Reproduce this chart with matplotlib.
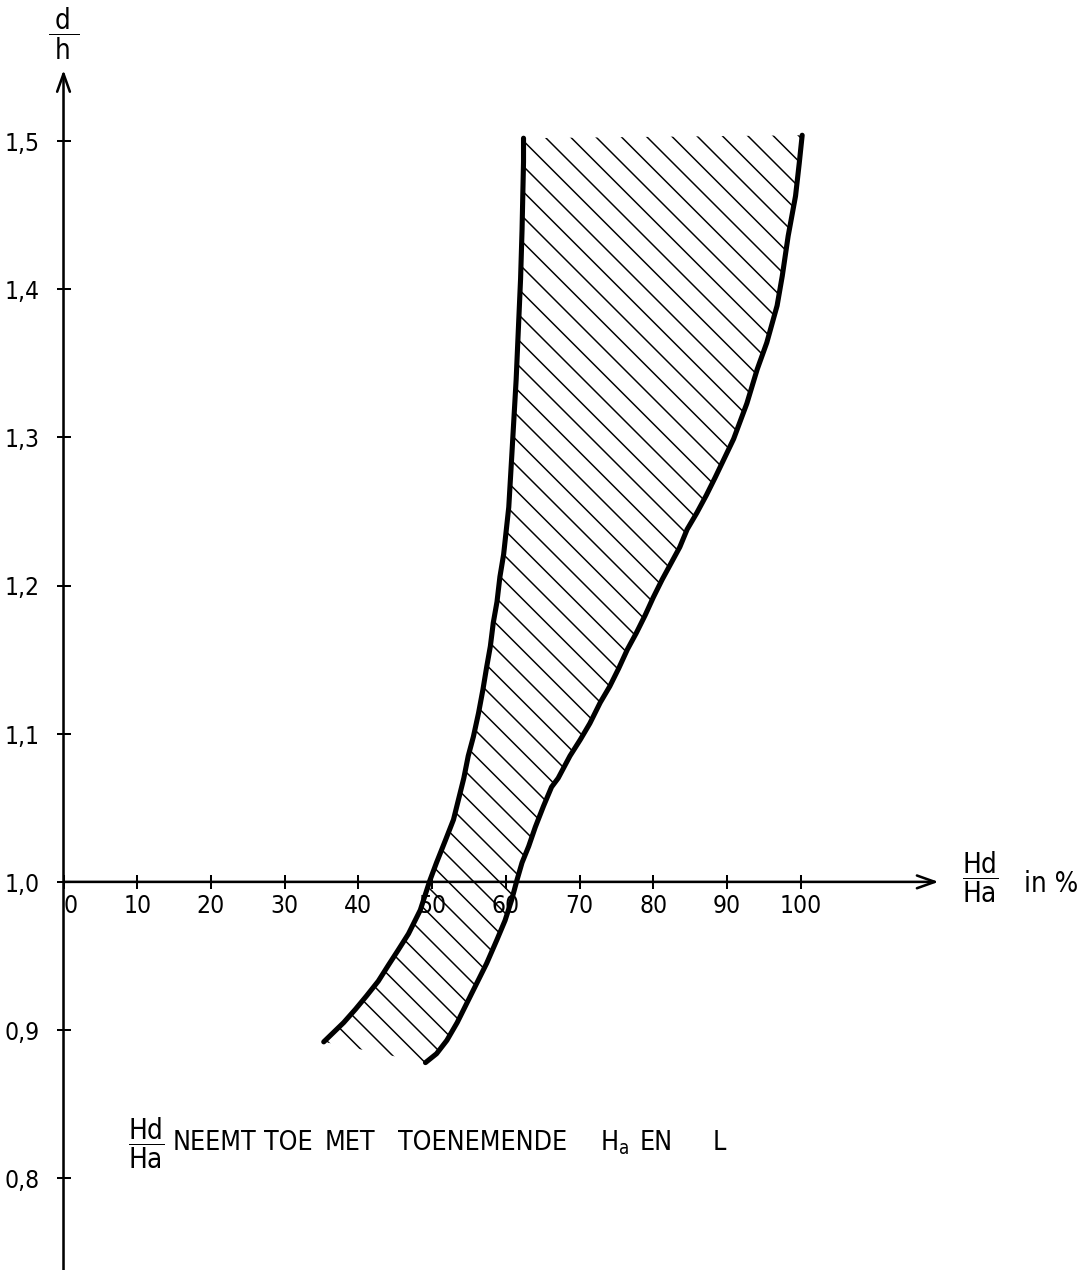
import matplotlib
matplotlib.use("Agg")
import matplotlib.pyplot as plt

# d/h (y) against Hd/Ha in % (x)
left_y = [0.892, 0.905, 0.914, 0.923, 0.933, 0.944, 0.954, 0.965, 0.981, 1.001, 1.013,
          1.028, 1.042, 1.060, 1.070, 1.085, 1.098, 1.114, 1.130, 1.145, 1.159, 1.175,
          1.189, 1.206, 1.221, 1.253, 1.287, 1.339, 1.373, 1.407, 1.440, 1.486, 1.502]
left_x = [35.3, 38.0, 39.6, 41.1, 42.7, 44.1, 45.4, 46.8, 48.4, 49.7, 50.6,
          51.8, 52.9, 53.8, 54.3, 54.9, 55.6, 56.3, 56.9, 57.4, 57.9, 58.3,
          58.8, 59.2, 59.7, 60.4, 60.8, 61.4, 61.7, 62.0, 62.2, 62.4, 62.4]

right_y = [0.878, 0.884, 0.893, 0.905, 0.918, 0.932, 0.945, 0.961, 0.974, 0.988, 1.001,
           1.013, 1.024, 1.037, 1.051, 1.064, 1.070, 1.085, 1.096, 1.107, 1.121, 1.132,
           1.144, 1.157, 1.168, 1.180, 1.192, 1.204, 1.215, 1.226, 1.238, 1.249, 1.261,
           1.273, 1.299, 1.323, 1.346, 1.364, 1.389, 1.409, 1.436, 1.463, 1.485, 1.504]
right_x = [49.1, 50.6, 52.0, 53.4, 54.7, 56.1, 57.4, 58.8, 59.9, 60.8, 61.5,
           62.2, 63.1, 64.0, 65.1, 66.2, 67.1, 68.7, 70.1, 71.4, 72.8, 74.1,
           75.3, 76.5, 77.7, 78.9, 80.0, 81.2, 82.4, 83.6, 84.6, 85.9, 87.2,
           88.4, 90.9, 92.7, 94.1, 95.4, 96.8, 97.5, 98.3, 99.3, 99.8, 100.2]

x_ticks = [0, 10, 20, 30, 40, 50, 60, 70, 80, 90, 100]
x_labels = [str(v) for v in x_ticks]
y_ticks = [0.8, 0.9, 1.0, 1.1, 1.2, 1.3, 1.4, 1.5]
y_labels = ["0,8", "0,9", "1,0", "1,1", "1,2", "1,3", "1,4", "1,5"]

note_words = ["NEEMT", "TOE", "MET", "TOENEMENDE", r"H$_{a}$", "EN", "L"]
note_x = [20.5, 30.5, 38.9, 56.8, 74.7, 80.4, 88.9]

plt.rcParams['font.family'] = ['DejaVu Sans']
plt.rcParams['font.stretch'] = 'condensed'
plt.rcParams['mathtext.default'] = 'regular'
plt.rcParams['hatch.linewidth'] = 0.7

dpi = 153
fig = plt.figure(figsize=(1091.3 / dpi, 1270.3 / dpi), dpi=dpi)
ax = fig.add_axes([0, 0, 1, 1])
ax.set_xlim(-8.616, 139.42)
ax.set_ylim(0.738, 1.5955)

# hatched band between the two curves
band_x = left_x + right_x[::-1]
band_y = left_y + right_y[::-1]
ax.fill(band_x, band_y, facecolor='none', edgecolor='black', hatch='\\\\', linewidth=0)
ax.plot(left_x, left_y, color='black', lw=2.4, solid_capstyle='round')
ax.plot(right_x, right_y, color='black', lw=2.4, solid_capstyle='round')

# axes through (0, 1.0) with arrows
for s in ax.spines.values():
    s.set_visible(False)
ax.spines['left'].set_position(('data', 0))
ax.spines['bottom'].set_position(('data', 1.0))
arrow = dict(arrowstyle='->,head_length=0.42,head_width=0.15', lw=1.2, color='black',
             shrinkA=0, shrinkB=0, mutation_scale=20)
ax.annotate('', xy=(118.7, 1.0), xytext=(0, 1.0), arrowprops=arrow)
ax.annotate('', xy=(0, 1.548), xytext=(0, 0.738), arrowprops=arrow)

ax.set_xticks(x_ticks, x_labels)
ax.set_yticks(y_ticks, y_labels)
ax.tick_params(direction='inout', length=6.6, width=0.95, labelsize=11.5, color='black')
ax.tick_params(axis='x', pad=2.4)
ax.tick_params(axis='y', pad=8)
ax.get_xticklabels()[0].set_ha('left')

ax.text(0, 1.5726, r'$\dfrac{\;d\;}{\;h\;}$', ha='center', va='center', fontsize=13)
ax.text(124.4, 1.0034, r'$\dfrac{Hd}{Ha}$', ha='center', va='center', fontsize=13)
ax.text(130.3, 0.999, 'in %', ha='left', va='center', fontsize=13)

ax.text(11.2, 0.8238, r'$\dfrac{Hd}{Ha}$', ha='center', va='center', fontsize=13)
for word, xpos in zip(note_words, note_x):
    ax.text(xpos, 0.8238, word, ha='center', va='center', fontsize=12.5)

fig.savefig("out.png", dpi=dpi)
plt.close(fig)
